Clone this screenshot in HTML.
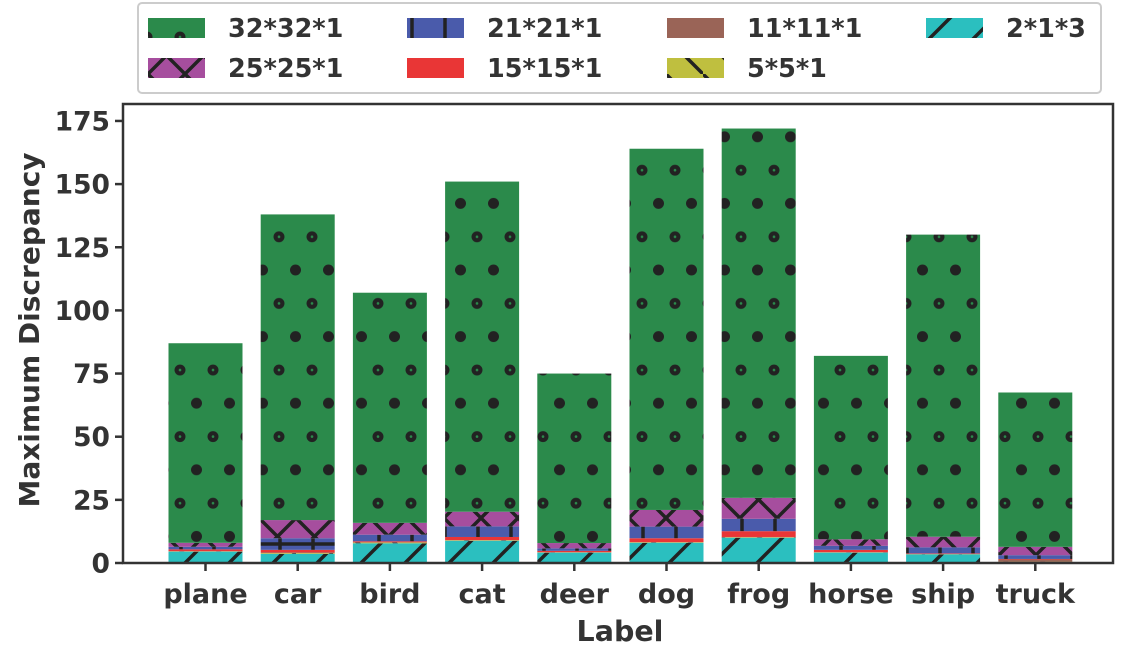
<!DOCTYPE html>
<html><head><meta charset="utf-8"><style>
body{margin:0;background:#fff;}
svg{display:block;font-family:"DejaVu Sans","Liberation Sans",sans-serif;font-weight:bold;}
</style></head><body>
<svg id="chart" width="1123" height="645" viewBox="0 0 1123 645">
<defs>
<pattern id="p-dots" patternUnits="userSpaceOnUse" x="163.5" y="336.6" width="33" height="66.6">
<rect width="33" height="66.6" fill="#2b8a4b"/>
<circle cx="16.5" cy="33.4" r="5.5" fill="#222"/><circle cx="16.5" cy="33.4" r="1.3" fill="#2b8a4b"/>
<circle cx="0" cy="0" r="5.5" fill="#222"/><circle cx="33" cy="0" r="5.5" fill="#222"/>
<circle cx="0" cy="66.6" r="5.5" fill="#222"/><circle cx="33" cy="66.6" r="5.5" fill="#222"/>
</pattern>
<pattern id="p-x" patternUnits="userSpaceOnUse" width="37" height="37">
<rect width="37" height="37" fill="#a64e9e"/>
<path d="M0,0L37,37M37,0L0,37" stroke="#222" stroke-width="3.5"/>
</pattern>
<pattern id="p-plus" patternUnits="userSpaceOnUse" width="33" height="33">
<rect width="33" height="33" fill="#4a5bab"/>
<path d="M16,0V33M0,16H33" stroke="#222" stroke-width="3.5"/>
</pattern>
<pattern id="p-minus" patternUnits="userSpaceOnUse" width="33" height="33">
<rect width="33" height="33" fill="#9a6457"/>
<path d="M0,16H33" stroke="#222" stroke-width="3"/>
</pattern>
<pattern id="p-red" patternUnits="userSpaceOnUse" width="33" height="33"><rect width="33" height="33" fill="#e93636"/></pattern>
<pattern id="p-back" patternUnits="userSpaceOnUse" width="37" height="37">
<rect width="37" height="37" fill="#bfbf3f"/>
<path d="M0,0L37,37" stroke="#222" stroke-width="3.5"/>
</pattern>
<pattern id="p-slash" patternUnits="userSpaceOnUse" width="44" height="44">
<rect width="44" height="44" fill="#2bbfbf"/>
<path d="M0,44L44,0" stroke="#222" stroke-width="3.5"/>
</pattern>
</defs>
<g id="bars"></g>
<g id="axes"></g>
<g id="legend"></g>
</svg>
<script>
const categories = ["plane","car","bird","cat","deer","dog","frog","horse","ship","truck"];
const seriesNames = ["2*1*3","5*5*1","11*11*1","15*15*1","21*21*1","25*25*1","32*32*1"];
const s_2x1x3   = [4.5, 3.6, 7.8, 8.8, 4.1, 8.0, 10.0, 4.1, 3.4, 0.3];
const s_5x5x1   = [0.1, 0.3, 0.3, 0.2, 0.1, 0.2, 0.2, 0.1, 0.1, 0.2];
const s_11x11x1 = [0.1, 0.3, 0.1, 0.1, 0.1, 0.1, 0.1, 0.1, 0.1, 0.9];
const s_15x15x1 = [0.7, 1.0, 0.4, 1.2, 0.5, 1.5, 2.3, 0.9, 0.2, 0.2];
const s_21x21x1 = [1.0, 4.6, 2.6, 4.2, 1.0, 4.6, 4.9, 1.6, 2.4, 1.5];
const s_25x25x1 = [1.6, 7.2, 4.7, 5.8, 2.1, 6.6, 8.3, 2.6, 4.2, 3.3];
const s_32x32x1 = [79.0, 121.0, 91.1, 130.7, 67.1, 143.0, 146.2, 72.6, 119.6, 61.1];
const yTicks = [0,25,50,75,100,125,150,175];

const series = [s_2x1x3,s_5x5x1,s_11x11x1,s_15x15x1,s_21x21x1,s_25x25x1,s_32x32x1];
const fills = ["url(#p-slash)","url(#p-back)","url(#p-minus)","url(#p-red)","url(#p-plus)","url(#p-x)","url(#p-dots)"];
const NS="http://www.w3.org/2000/svg";
const L=123,R=1113,T=104,B=563;
const y=v=>B-v*2.526;
const x=i=>205.5+i*92.2;
const bw=74;
function mk(tag,attrs,parent){const e=document.createElementNS(NS,tag);for(const k in attrs)e.setAttribute(k,attrs[k]);parent.appendChild(e);return e;}
const bars=document.getElementById('bars');
categories.forEach((c,i)=>{
  let acc=0;
  series.forEach((s,j)=>{
    const v=s[i];
    const r=mk('rect',{x:x(i)-bw/2,y:y(acc+v),width:bw,height:Math.max(0,y(acc)-y(acc+v)),fill:fills[j]},bars);
    
    
    acc+=v;
  });
});
const ax=document.getElementById('axes');
const fr=mk('rect',{x:L,y:T,width:R-L,height:B-T,fill:'none',stroke:'#333','stroke-width':2.5},ax);


yTicks.forEach(t=>{
  mk('line',{x1:L-8,x2:L,y1:y(t),y2:y(t),stroke:'#333','stroke-width':2.5},ax);
  const tx=mk('text',{x:L-13,y:y(t)+9.5,'text-anchor':'end','font-size':26.5,fill:'#333'},ax);
  tx.textContent=t;
  
  
});
categories.forEach((c,i)=>{
  mk('line',{x1:x(i),x2:x(i),y1:B,y2:B+8,stroke:'#333','stroke-width':2.5},ax);
  const tx=mk('text',{x:x(i),y:603,'text-anchor':'middle','font-size':27,fill:'#333'},ax);
  tx.textContent=c;
  
  
});
const xt=mk('text',{x:620,y:641,'text-anchor':'middle','font-size':28.5,fill:'#333'},ax);
xt.textContent='Label';


const yt=mk('text',{x:0,y:0,transform:'translate(39,330) rotate(-90)','text-anchor':'middle','font-size':28,fill:'#333'},ax);
yt.textContent='Maximum Discrepancy';


const lg=document.getElementById('legend');
const box=mk('rect',{x:138,y:3,width:963,height:90,rx:4,fill:'#fff',stroke:'#ccc','stroke-width':2},lg);


const order=[6,5,4,3,2,1,0];
const colsX=[148,407,667,926];
order.forEach((j,k)=>{
  const col=Math.floor(k/2),row=k%2;
  const px=colsX[col],py=18+row*40;
  const p=mk('rect',{x:px,y:py,width:57,height:20,fill:fills[j]},lg);
  
  
  const t=mk('text',{x:px+80,y:py+19,'font-size':25.5,fill:'#333'},lg);
  t.textContent=seriesNames[j];
  
  
});
</script>
</body></html>
